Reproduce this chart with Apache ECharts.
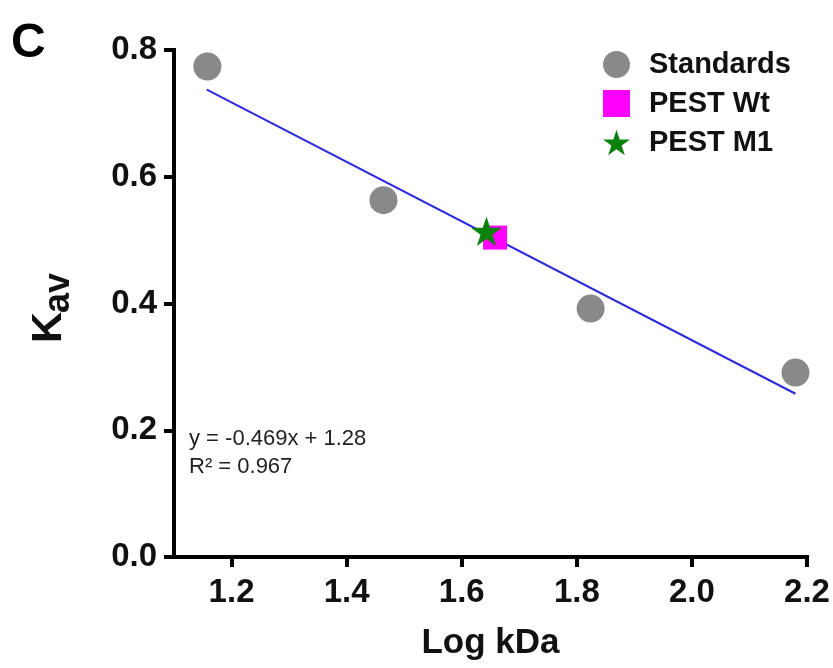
<!DOCTYPE html>
<html>
<head>
<meta charset="utf-8">
<script src="https://cdn.jsdelivr.net/npm/echarts@6/dist/echarts.min.js"></script>
<style>
  html, body { margin: 0; padding: 0; background: #ffffff; }
  #chart { width: 833px; height: 668px; }
</style>
</head>
<body>
<div id="chart"></div>
<script>
// Gel filtration calibration: Kav against log molecular weight
const standardsX = [1.158, 1.464, 1.824, 2.180];
const standardsY = [0.774, 0.563, 0.392, 0.291];
const pestWtX = [1.658];
const pestWtY = [0.504];
const pestM1X = [1.643];
const pestM1Y = [0.514];

// Linear fit reported on the plot
const fitSlope = -0.469;
const fitIntercept = 1.28;
const fitR2 = 0.967;
const fitRangeX = [1.157, 2.18];

const xTicks = [1.2, 1.4, 1.6, 1.8, 2.0, 2.2];
const yTicks = [0.0, 0.2, 0.4, 0.6, 0.8];

const FONT = '"Liberation Sans", Arial, sans-serif';
const STAR = 'path://M50 0 L61.23 34.55 L97.55 34.55 L68.16 55.9 L79.39 90.45 L50 69.1 L20.61 90.45 L31.84 55.9 L2.45 34.55 L38.77 34.55 Z';

const pair = (xs, ys) => xs.map((x, i) => [x, ys[i]]);
const fitLine = fitRangeX.map(x => [x, fitSlope * x + fitIntercept]);

const chart = echarts.init(document.getElementById('chart'), null, { renderer: 'canvas' });

const axisCommon = {
  axisLine: { show: true, onZero: false, lineStyle: { color: '#000', width: 4, cap: 'square' } },
  axisTick: { show: true, inside: false, length: 10, lineStyle: { color: '#000', width: 4 } },
  splitLine: { show: false },
  axisLabel: {
    color: '#111', fontFamily: FONT, fontWeight: 'bold', fontSize: 33,
    formatter: v => Number(v).toFixed(1)
  }
};

chart.setOption({
  animation: false,
  backgroundColor: '#ffffff',
  grid: { left: 174, right: 26, top: 50, bottom: 111, containLabel: false },
  xAxis: Object.assign({}, axisCommon, {
    type: 'value',
    min: 1.1,
    max: 2.2,
    name: 'Log kDa',
    nameLocation: 'middle',
    nameGap: 69,
    nameTextStyle: { color: '#111', fontFamily: FONT, fontWeight: 'bold', fontSize: 35 },
    axisTick: Object.assign({}, axisCommon.axisTick, { customValues: xTicks }),
    axisLabel: Object.assign({}, axisCommon.axisLabel, { customValues: xTicks, margin: 19 })
  }),
  yAxis: Object.assign({}, axisCommon, {
    type: 'value',
    min: 0,
    max: 0.8,
    interval: 0.2,
    axisTick: Object.assign({}, axisCommon.axisTick, { customValues: yTicks }),
    axisLabel: Object.assign({}, axisCommon.axisLabel, { customValues: yTicks, margin: 17 })
  }),
  legend: {
    orient: 'vertical',
    left: 598,
    top: 45,
    itemWidth: 27,
    itemHeight: 27,
    itemGap: 10,
    itemStyle: { opacity: 1 },
    textStyle: { color: '#111', fontFamily: FONT, fontWeight: 'bold', fontSize: 29, padding: [0, 0, 0, 14] },
    data: [
      { name: 'Standards', icon: 'circle' },
      { name: 'PEST Wt', icon: 'rect' },
      { name: 'PEST M1', icon: STAR }
    ]
  },
  graphic: [
    {
      type: 'text', left: 11, top: 20,
      style: { text: 'C', fill: '#000', font: 'bold 48px ' + FONT }
    },
    {
      // vertical axis title: K with subscript "av", reading bottom to top
      type: 'group', x: 71, y: 343, rotation: Math.PI / 2,
      children: [
        { type: 'text', x: 0, y: 0, style: { text: 'K', fill: '#111', font: 'bold 43px ' + FONT, textVerticalAlign: 'bottom' } },
        { type: 'text', x: 30, y: 6, style: { text: 'av', fill: '#111', font: 'bold 36px ' + FONT, textVerticalAlign: 'bottom' } }
      ]
    },
    {
      type: 'text', left: 189, top: 425,
      style: {
        text: 'y = ' + fitSlope.toFixed(3) + 'x + ' + fitIntercept.toFixed(2) + '\nR\u00B2 = ' + fitR2.toFixed(3),
        fill: '#222', font: '22px ' + FONT, lineHeight: 28
      }
    }
  ],
  series: [
    {
      name: 'Fit', type: 'line', data: fitLine, symbol: 'none', z: 1,
      lineStyle: { color: '#2a2ae2', width: 2 }, silent: true
    },
    {
      name: 'Standards', type: 'scatter', data: pair(standardsX, standardsY),
      symbol: 'circle', symbolSize: 28, z: 2,
      itemStyle: { color: '#898989', opacity: 1 }
    },
    {
      name: 'PEST Wt', type: 'scatter', data: pair(pestWtX, pestWtY),
      symbol: 'rect', symbolSize: 24, z: 3,
      itemStyle: { color: '#ff00ff', opacity: 1 }
    },
    {
      name: 'PEST M1', type: 'scatter', data: pair(pestM1X, pestM1Y),
      symbol: STAR, symbolSize: 31, symbolKeepAspect: true, z: 4,
      itemStyle: { color: '#0b800b', opacity: 1 }
    }
  ]
});
</script>
</body>
</html>
